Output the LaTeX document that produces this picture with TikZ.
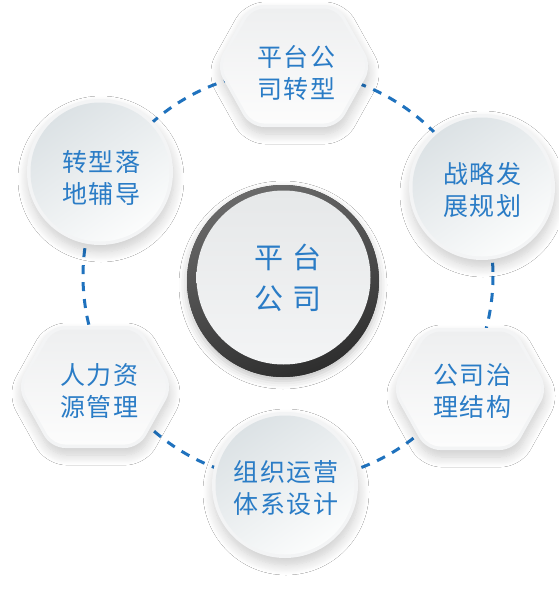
\documentclass[tikz,border=0pt]{standalone}
\usepackage{fontspec}
\newfontfamily\cjk[LetterSpace=6]{Noto Sans CJK SC}
\newfontfamily\cjkbig[LetterSpace=28]{Noto Sans CJK SC}
\usetikzlibrary{shadows.blur}
\definecolor{txtblue}{HTML}{2A7CC6}
\definecolor{dashblue}{HTML}{1F72BE}
\definecolor{rimgray}{HTML}{F3F4F5}
\definecolor{innerdark}{HTML}{DCE2E5}
\definecolor{innerlight}{HTML}{FBFCFC}
\definecolor{hexdark}{HTML}{EEEFF0}
\definecolor{hexlight}{HTML}{FCFCFC}
\definecolor{ringlight}{HTML}{6A6A6A}
\definecolor{ringdark}{HTML}{2E2E2E}
\definecolor{diskdark}{HTML}{E6E8E9}
\definecolor{disklight}{HTML}{F3F4F5}
\tikzset{
  softshadow/.style={blur shadow={shadow xshift=1pt, shadow yshift=-7pt, shadow blur radius=10pt, shadow blur steps=12, shadow opacity=20}},
  lbl/.style={font=\cjk\fontsize{25}{32}\selectfont, text=txtblue, align=center, inner sep=0pt},
  biglbl/.style={font=\cjkbig\fontsize{29}{41}\selectfont, text=txtblue, align=center, inner sep=0pt},
  ringline/.style={draw=dashblue, line width=3pt, dash pattern=on 9pt off 8pt}
}
\newcommand{\satcircle}[2]{%
  \path[fill=rimgray, softshadow] (#1,#2) circle (73);
  \shade[top color=innerdark, bottom color=innerlight, shading angle=35] (#1,#2) circle (69.5);
}
\newcommand{\sathex}[2]{%
  \begin{scope}[shift={(#1,#2)}]
    \path[fill=rimgray, rounded corners=14pt, softshadow] (-78,0) -- (-44,-61) -- (44,-61) -- (78,0) -- (44,61) -- (-44,61) -- cycle;
    \shade[top color=hexdark, bottom color=hexlight, rounded corners=12pt] (-74.5,0) -- (-42,-57.5) -- (42,-57.5) -- (74.5,0) -- (42,57.5) -- (-42,57.5) -- cycle;
  \end{scope}
}
\begin{document}
\begin{tikzpicture}[x=1pt,y=-1pt]
\useasboundingbox (0,0) rectangle (558,589);
\fill[white] (0,0) rectangle (558,589);
% dashed ring
\draw[ringline] (288,276) circle (205);
% central circle
\path[fill=ringdark, blur shadow={shadow xshift=0pt, shadow yshift=-4pt, shadow blur radius=8pt, shadow opacity=25}] (283,281) circle (96);
\shade[top color=ringlight, bottom color=ringdark, shading angle=20] (283,281) circle (96);
\shade[top color=diskdark, bottom color=disklight] (283.5,277.5) circle (87);
% satellites
\sathex{294}{66}
\satcircle{100}{172}
\satcircle{482}{187}
\sathex{95}{387}
\sathex{470}{389}
\satcircle{285}{485}
% labels
\node[biglbl] (center) at (288,278) {平台\\公司};
\node[lbl] (top) at (296,73) {平台公\\司转型};
\node[lbl] (ul) at (101,178) {转型落\\地辅导};
\node[lbl] (ur) at (482,190) {战略发\\展规划};
\node[lbl] (ll) at (99,391) {人力资\\源管理};
\node[lbl] (lr) at (472,391) {公司治\\理结构};
\node[lbl] (bot) at (286,488) {组织运营\\体系设计};
\end{tikzpicture}
\end{document}
